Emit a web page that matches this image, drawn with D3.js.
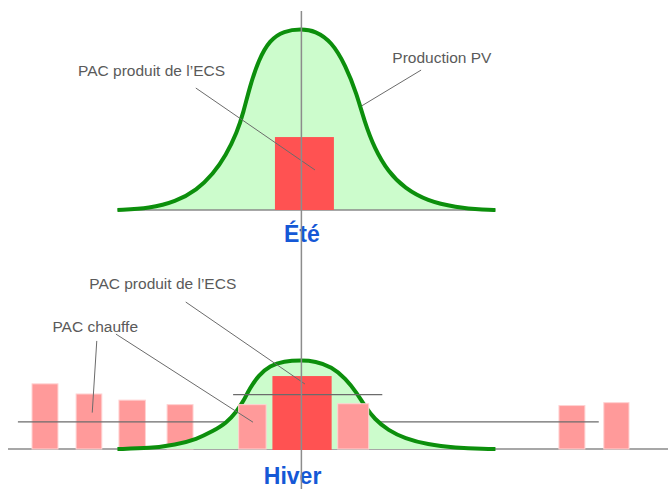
<!DOCTYPE html>
<meta charset="utf-8">
<style>
body { margin: 0; background: #fff; }
svg { display: block; font-family: "Liberation Sans", Arial, sans-serif; }
.leader { stroke: #6b6b6b; stroke-width: 1; fill: none; }
.label { fill: #5a5a5a; font-size: 15.5px; }
.saison { fill: #1558d6; font-size: 23px; font-weight: bold; text-anchor: middle; }
</style>
<body>
<script src="https://cdn.jsdelivr.net/npm/d3@7/dist/d3.min.js"></script>
<script>

// courbe de production PV (heure, % du max en ete)
var heures = [4.7, 6.0, 7.0, 7.85, 8.5, 9.0, 9.45, 9.7, 9.95, 10.3, 10.75, 11.3, 12.0,
              12.55, 13.2, 13.75, 14.2, 14.5, 14.9, 15.45, 16.1, 17.0, 18.1, 19.3, 19.7];
var pvEte   = [0, 1, 4.5, 11, 20, 30, 43, 54, 68, 83, 94, 99, 100,
               99, 93, 80, 64, 49, 34, 21, 12, 5, 1.5, 0, 0];
var pvHiver = [0, 0.4, 2.3, 5.4, 10, 14, 21, 26.5, 33.5, 40.7, 46, 48.5, 49,
               48.5, 45.5, 39, 31, 24, 16.5, 10.3, 5.9, 2.5, 0.7, 0, 0];

// PAC produit de l'ECS : [debut, fin, hauteur]
var ecsEte   = [10.95, 13.29, 40.3];
var ecsHiver = [10.85, 13.2, 40.3];

// PAC chauffe (hiver)
var chauffeDebut = [1.31, 3.06, 4.76, 6.67, 9.51, 13.44, 22.22, 24.0];
var chauffeFin   = [2.34, 4.08, 5.81, 7.70, 10.6, 14.67, 23.25, 25.0];
var chauffe      = [36, 30.4, 27, 24.5, 24.5, 25, 24, 25.6];

// seuils horizontaux hiver : [debut, fin, niveau]
var seuilChauffe = [0.75, 23.8, 15];
var seuilEcs     = [9.29, 15.21, 30];

var W = 668, H = 489;

var svg = d3.select("body").append("svg")
    .attr("width", W)
    .attr("height", H);

var x = d3.scaleLinear().domain([0, 24]).range([-1, 603.8]);
var yEte = d3.scaleLinear().domain([0, 100]).range([210, 29]);
var yHiver = d3.scaleLinear().domain([0, 100]).range([449, 268]);

function courbe(vals, y) {
  var pts = heures.map(function(h, i) { return [h, vals[i]]; });
  var area = d3.area().curve(d3.curveBasis)
      .x(function(d) { return x(d[0]); })
      .y0(y(0))
      .y1(function(d) { return y(d[1]); });
  var line = d3.line().curve(d3.curveBasis)
      .x(function(d) { return x(d[0]); })
      .y(function(d) { return y(d[1]); });
  return { area: area(pts), line: line(pts) };
}

function seg(g, x1, y1, x2, y2, cls, color, w) {
  g.append("line")
    .attr("class", cls || null)
    .attr("x1", x1).attr("y1", y1).attr("x2", x2).attr("y2", y2)
    .attr("stroke", color || null)
    .attr("stroke-width", w || null);
}

// ---------- ETE ----------
var gE = svg.append("g");
var cE = courbe(pvEte, yEte);
gE.append("path").attr("d", cE.area).attr("fill", "#ccfccc");
seg(gE, x(heures[0]), yEte(0), x(heures[heures.length - 1]), yEte(0), null, "#8a8a8a", 1.5);
gE.append("rect")
    .attr("x", x(ecsEte[0]))
    .attr("y", yEte(ecsEte[2]))
    .attr("width", x(ecsEte[1]) - x(ecsEte[0]))
    .attr("height", yEte(0) - yEte(ecsEte[2]))
    .attr("fill", "#ff5252");
gE.append("path").attr("d", cE.line)
    .attr("fill", "none").attr("stroke", "#0c8f0c").attr("stroke-width", 4);

// annotations ete
gE.append("text").attr("class", "label")
    .attr("x", x(3.135)).attr("y", yEte(74)).text("PAC produit de l’ECS");
seg(gE, x(7.81), yEte(67.4), x(12.54), yEte(22.1), "leader");
gE.append("text").attr("class", "label")
    .attr("x", x(15.61)).attr("y", yEte(81.2)).text("Production PV");
seg(gE, x(16.75), yEte(77.3), x(14.39), yEte(57.5), "leader");
gE.append("text").attr("class", "saison")
    .attr("x", x(12.02)).attr("y", yEte(-17.8)).text("Été");

// ---------- HIVER ----------
var gH = svg.append("g");
seg(gH, 8, yHiver(0), W, yHiver(0), null, "#8a8a8a", 1.5);

var barres = chauffe.map(function(v, i) {
  return { d: chauffeDebut[i], f: chauffeFin[i], v: v };
});
function dessineBarres(list) {
  gH.selectAll(null).data(list).enter().append("rect")
    .attr("x", function(d) { return x(d.d); })
    .attr("y", function(d) { return yHiver(d.v); })
    .attr("width", function(d) { return x(d.f) - x(d.d); })
    .attr("height", function(d) { return yHiver(0) - yHiver(d.v); })
    .attr("fill", "#ff9a9a")
    .attr("stroke", "#ffd2d2")
    .attr("stroke-width", 1);
}
// barres hors de la courbe PV (derriere)
dessineBarres(barres.filter(function(d) { return d.f < 8 || d.d > 20; }));
seg(gH, x(seuilChauffe[0]), yHiver(seuilChauffe[2]), x(seuilChauffe[1]), yHiver(seuilChauffe[2]), null, "#6b6b6b", 1.2);

var cH = courbe(pvHiver, yHiver);
gH.append("path").attr("d", cH.area).attr("fill", "#ccfccc");
gH.append("path").attr("d", cH.line)
    .attr("fill", "none").attr("stroke", "#0c8f0c").attr("stroke-width", 4);

dessineBarres(barres.filter(function(d) { return !(d.f < 8 || d.d > 20); }));
gH.append("rect")
    .attr("x", x(ecsHiver[0]))
    .attr("y", yHiver(ecsHiver[2]))
    .attr("width", x(ecsHiver[1]) - x(ecsHiver[0]))
    .attr("height", yHiver(0) - yHiver(ecsHiver[2]) + 1)
    .attr("fill", "#ff5252");
seg(gH, x(seuilEcs[0]), yHiver(seuilEcs[2]), x(seuilEcs[1]), yHiver(seuilEcs[2]), null, "#6b6b6b", 1.2);

// annotations hiver
gH.append("text").attr("class", "label")
    .attr("x", x(3.58)).attr("y", yHiver(88.2)).text("PAC produit de l’ECS");
seg(gH, x(7.41), yHiver(81.2), x(12.14), yHiver(35.9), "leader");
gH.append("text").attr("class", "label")
    .attr("x", x(2.12)).attr("y", yHiver(64.8)).text("PAC chauffe");
seg(gH, x(3.88), yHiver(59.7), x(3.70), yHiver(20.1), "leader");
seg(gH, x(4.64), yHiver(63.5), x(10.08), yHiver(14.8), "leader");
gH.append("text").attr("class", "saison")
    .attr("x", x(11.65)).attr("y", yHiver(-19.2)).text("Hiver");

// axe vertical commun (midi)
seg(svg, x(12), yEte(110), x(12), H, null, "#8c8c8c", 1.5);

</script>
</body>
